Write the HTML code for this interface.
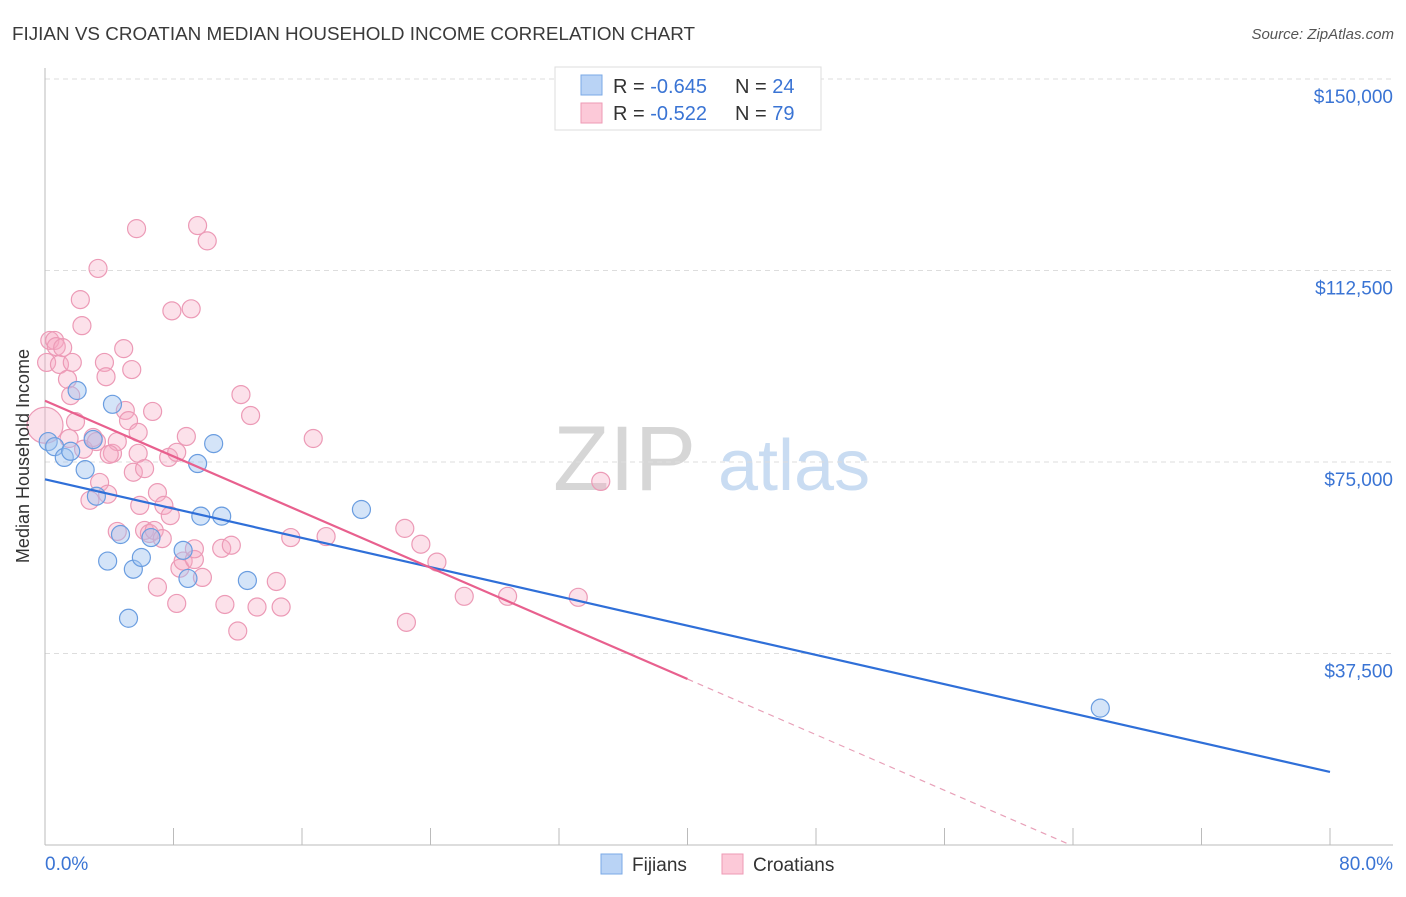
<!DOCTYPE html>
<html><head><meta charset="utf-8"><style>
body{margin:0;background:#fff;font-family:"Liberation Sans",sans-serif;}
svg text{font-family:"Liberation Sans",sans-serif;}
</style></head><body>
<svg id="chart" width="1406" height="892" xmlns="http://www.w3.org/2000/svg">
<text x="12" y="40" font-size="18" fill="#3a3a3a" textLength="683" lengthAdjust="spacingAndGlyphs">FIJIAN VS CROATIAN MEDIAN HOUSEHOLD INCOME CORRELATION CHART</text>
<text x="1394" y="39" font-size="15" fill="#555" text-anchor="end" font-style="italic">Source: ZipAtlas.com</text>
<g>
<text x="553" y="490" font-size="92" fill="#d6d6d6" font-family="Liberation Serif">ZIP</text>
<text x="718" y="490" font-size="72" fill="#c9dcf2">atlas</text>
</g>
<g id="grid"></g>
<g id="axes"></g>
<g id="points"></g>
<g id="lines"></g>
<text transform="translate(29,456) rotate(-90)" font-size="18" fill="#333" text-anchor="middle">Median Household Income</text>
<g>
<rect x="555" y="67" width="266" height="63" fill="#fff" stroke="#ddd"/>
<rect x="581" y="75" width="21" height="20" fill="#b9d3f5" stroke="#7aa8e6"/>
<rect x="581" y="103" width="21" height="20" fill="#fcc9d8" stroke="#ee9ab5"/>
<text x="613" y="93" font-size="20" fill="#333">R = <tspan fill="#3a74d4">-0.645</tspan></text>
<text x="735" y="93" font-size="20" fill="#333">N = <tspan fill="#3a74d4">24</tspan></text>
<text x="613" y="120" font-size="20" fill="#333">R =  <tspan fill="#3a74d4">-0.522</tspan></text>
<text x="735" y="120" font-size="20" fill="#333">N = <tspan fill="#3a74d4">79</tspan></text>
</g>
<g>
<rect x="601" y="854" width="21" height="20" fill="#b9d3f5" stroke="#7aa8e6"/>
<text x="632" y="871" font-size="19" fill="#333">Fijians</text>
<rect x="722" y="854" width="21" height="20" fill="#fcc9d8" stroke="#ee9ab5"/>
<text x="753" y="871" font-size="19" fill="#333">Croatians</text>
</g>
</svg>
<script>
const yTicks=[37500,75000,112500,150000];
const yTickLabels=["$37,500","$75,000","$112,500","$150,000"];
const xTickVals=[0,8,16,24,32,40,48,56,64,72,80];
const xEndLabels=["0.0%","80.0%"];
const fijianX=[0.2,0.6,1.2,1.6,2.0,2.5,3.0,3.2,3.9,4.2,4.7,5.2,5.5,6.0,6.6,8.6,8.9,9.5,9.7,10.5,11.0,12.6,19.7,65.7];
const fijianY=[79.0,78.0,75.9,77.1,89.0,73.5,79.4,68.3,55.6,86.3,60.8,44.4,54.0,56.3,60.2,57.7,52.2,74.7,64.4,78.6,64.4,51.8,65.7,26.8];
const croatX=[0.3,0.6,0.1,0.7,1.1,0.9,1.4,1.6,1.7,2.2,2.3,3.3,0,1.5,1.9,2.4,2.8,3.0,3.2,3.4,3.7,3.8,3.9,4.2,4.5,4.5,4.9,5.0,5.2,5.4,5.5,5.7,5.8,5.8,6.2,6.2,6.5,6.7,6.8,7.0,7.0,7.3,7.4,7.7,7.8,7.9,8.2,8.2,8.4,8.6,8.8,9.1,9.3,9.5,9.8,10.1,11.0,11.2,11.6,12.0,12.2,12.8,13.2,14.4,14.7,15.3,16.7,17.5,22.4,22.5,23.4,24.4,26.1,28.8,33.2,34.6,4.0,5.9,9.3];
const croatY=[98.8,98.8,94.5,97.6,97.4,94.1,91.2,88.0,94.5,106.8,101.7,112.9,82.2,79.6,82.9,77.5,67.5,79.8,79.0,71.0,94.5,91.7,68.7,76.7,79.0,61.4,97.2,85.1,83.1,93.1,73.0,120.7,76.7,80.8,61.6,73.7,61.0,84.9,61.6,50.5,69.0,60.0,66.5,75.9,64.5,104.6,76.9,47.3,54.2,55.6,80.0,105.0,55.9,121.3,52.4,118.3,58.1,47.1,58.7,41.9,88.2,84.1,46.6,51.6,46.6,60.2,79.6,60.4,62.0,43.6,58.9,55.4,48.7,48.7,48.5,71.2,76.5,66.5,58.0];
const fijianTrend=[71.6,14.3];
const croatTrend=[87.0,32.5];
const croatSolidEnd=40;
const NS="http://www.w3.org/2000/svg";
const X0=45,X1=1330,Y0=845,YTOP=79;
function xs(p){return X0+(X1-X0)*p/80;}
function ys(v){return Y0-(Y0-YTOP)*v/150000;}
function mk(tag,attrs,parent){const e=document.createElementNS(NS,tag);for(const k in attrs)e.setAttribute(k,attrs[k]);parent.appendChild(e);return e;}
const grid=document.getElementById('grid'),axes=document.getElementById('axes'),pts=document.getElementById('points'),lines=document.getElementById('lines');
yTicks.forEach((t,i)=>{
 const l=mk('line',{x1:X0,x2:1393,y1:ys(t),y2:ys(t),stroke:'#ddd','stroke-dasharray':'5,4'},grid);
 
 
 const tx=mk('text',{x:1393,y:ys(t)+24,'font-size':19,fill:'#3a74d4','text-anchor':'end'},axes);
 tx.textContent=yTickLabels[i];
 
 
});
const ax=mk('line',{x1:X0,x2:X0,y1:68,y2:Y0,stroke:'#bbb'},axes);


const bx=mk('line',{x1:X0,x2:1393,y1:Y0,y2:Y0,stroke:'#bbb'},axes);


xTickVals.forEach(v=>{
 const t=mk('line',{x1:xs(v),x2:xs(v),y1:Y0-17,y2:Y0,stroke:'#bbb'},axes);
 
 
});
const xl0=mk('text',{x:45,y:870,'font-size':19,fill:'#3a74d4'},axes);
xl0.textContent=xEndLabels[0];


const xl1=mk('text',{x:1393,y:870,'font-size':19,fill:'#3a74d4','text-anchor':'end'},axes);
xl1.textContent=xEndLabels[1];


croatX.forEach((x,i)=>{
 const big=(x===0);
 const c=mk('circle',{cx:xs(x),cy:ys(croatY[i]*1000),r:big?18:9,fill:'rgba(246,170,196,0.35)',stroke:'#ec9ab6','stroke-width':1.2},pts);
 
 
});
fijianX.forEach((x,i)=>{
 const c=mk('circle',{cx:xs(x),cy:ys(fijianY[i]*1000),r:9,fill:'rgba(160,196,240,0.45)',stroke:'#6a9de0','stroke-width':1.2},pts);
 
 
});
const bl=mk('line',{x1:xs(0),y1:ys(fijianTrend[0]*1000),x2:xs(80),y2:ys(fijianTrend[1]*1000),stroke:'#2f6fd8','stroke-width':2.2},lines);


const slope=(croatTrend[1]-croatTrend[0])/croatSolidEnd;
const zeroX=-croatTrend[0]/slope;
const pl=mk('line',{x1:xs(0),y1:ys(croatTrend[0]*1000),x2:xs(croatSolidEnd),y2:ys(croatTrend[1]*1000),stroke:'#e8608e','stroke-width':2.2},lines);


const pd=mk('line',{x1:xs(croatSolidEnd),y1:ys(croatTrend[1]*1000),x2:xs(zeroX),y2:ys(0),stroke:'#e8a0b8','stroke-width':1.2,'stroke-dasharray':'6,5'},lines);


</script>
</body></html>
